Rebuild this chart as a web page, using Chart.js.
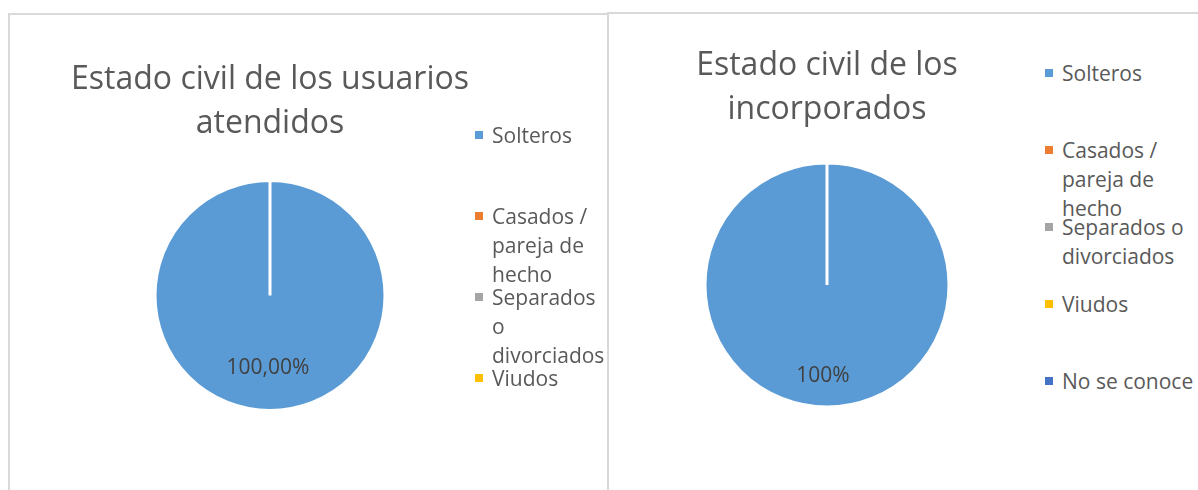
<!DOCTYPE html>
<html>
<head>
<meta charset="utf-8">
<script src="https://cdn.jsdelivr.net/npm/chart.js@4.4.1/dist/chart.umd.min.js"></script>
<style>
  body { margin: 0; width: 1198px; height: 490px; overflow: hidden; background: #fff; font-family: "Open Sans", sans-serif; }
  .panel { position: absolute; border: 2px solid #d9d9d9; border-bottom: none; box-sizing: border-box; }
  .box { position: absolute; }
  .legend { position: absolute; left: 0; top: 0; color: #595959; font-size: 21px; line-height: 29px; }
  .item { position: absolute; }
  .item .mark { position: absolute; left: 0; top: 10.5px; width: 8px; height: 8px; }
  .item .txt { position: absolute; top: 0; }
</style>
</head>
<body>
<div class="panel" style="left:8px; top:13px; width:601px; height:490px;"></div>
<div class="panel" style="left:607px; top:12px; width:600px; height:490px;"></div>

<div class="box" style="left:10px; top:15px; width:520px; height:475px;"><canvas id="atendidos"></canvas></div>
<div class="box" style="left:609px; top:14px; width:436px; height:476px;"><canvas id="incorporados"></canvas></div>
<div id="legendAtendidos" class="legend"></div>
<div id="legendIncorporados" class="legend"></div>

<script>
// datos de los dos graficos
const categoriasAtendidos = ['Solteros', 'Casados / pareja de hecho', 'Separados o divorciados', 'Viudos'];
const porcentajesAtendidos = [100, 0, 0, 0];

const categoriasIncorporados = ['Solteros', 'Casados / pareja de hecho', 'Separados o divorciados', 'Viudos', 'No se conoce'];
const porcentajesIncorporados = [100, 0, 0, 0, 0];

const colores = ['#5b9bd5', '#ed7d31', '#a5a5a5', '#ffc000', '#4472c4'];

// etiqueta de porcentaje dentro de cada sector
const etiquetas = {
  id: 'etiquetas',
  afterDatasetsDraw(chart, args, opts) {
    const ctx = chart.ctx;
    const valores = chart.data.datasets[0].data;
    const total = valores.reduce((a, b) => a + b, 0);
    chart.getDatasetMeta(0).data.forEach((arc, i) => {
      if (!valores[i]) return;
      const p = arc.getProps(['x', 'y', 'startAngle', 'endAngle', 'outerRadius'], true);
      const medio = (p.startAngle + p.endAngle) / 2;
      const r = p.outerRadius * opts.dist;
      const texto = (valores[i] / total * 100).toFixed(opts.decimales).replace('.', ',') + '%';
      ctx.save();
      ctx.font = '21px "Open Sans"';
      ctx.fillStyle = '#404040';
      ctx.textAlign = 'center';
      ctx.textBaseline = 'middle';
      ctx.fillText(texto, p.x + Math.cos(medio) * r + opts.dx, p.y + Math.sin(medio) * r);
      ctx.restore();
    });
  }
};

function crearPie(id, labels, valores, titulo, cfg) {
  return new Chart(document.getElementById(id), {
    type: 'pie',
    data: {
      labels: labels,
      datasets: [{
        data: valores,
        backgroundColor: colores.slice(0, labels.length),
        borderColor: '#ffffff',
        borderWidth: 3
      }]
    },
    options: {
      responsive: true,
      maintainAspectRatio: false,
      animation: false,
      events: [],
      radius: cfg.radio,
      layout: { padding: { bottom: cfg.padAbajo } },
      plugins: {
        legend: { display: false },
        tooltip: { enabled: false },
        title: {
          display: true,
          text: titulo,
          color: '#595959',
          font: { family: '"Open Sans"', size: 32, weight: 'normal', lineHeight: 1.375 },
          padding: { top: cfg.padTitulo, bottom: 0 }
        },
        etiquetas: { dist: cfg.dist, decimales: cfg.decimales, dx: cfg.dx }
      }
    },
    plugins: [etiquetas]
  });
}

// leyenda a la derecha, como en Excel
function crearLeyenda(id, labels, x, textoX, ancho, primero, paso) {
  const cont = document.getElementById(id);
  labels.forEach((lab, i) => {
    const item = document.createElement('div');
    item.className = 'item';
    item.style.left = x + 'px';
    item.style.top = (primero + i * paso - 14.5) + 'px';
    const mark = document.createElement('span');
    mark.className = 'mark';
    mark.style.background = colores[i];
    const txt = document.createElement('div');
    txt.className = 'txt';
    txt.style.left = (textoX - x) + 'px';
    txt.style.width = ancho + 'px';
    txt.textContent = lab;
    item.appendChild(mark);
    item.appendChild(txt);
    cont.appendChild(item);
  });
}

document.fonts.load('32px "Open Sans"').then(() => {
  crearPie('atendidos', categoriasAtendidos, porcentajesAtendidos,
    ['Estado civil de los usuarios', 'atendidos'],
    { radio: 115, padAbajo: 45, padTitulo: 43, dist: 0.63, decimales: 2, dx: -2 });
  crearPie('incorporados', categoriasIncorporados, porcentajesIncorporados,
    ['Estado civil de los', 'incorporados'],
    { radio: 122, padAbajo: 52, padTitulo: 30, dist: 0.75, decimales: 0, dx: -4 });

  crearLeyenda('legendAtendidos', categoriasAtendidos, 475, 492, 118, 135, 81);
  crearLeyenda('legendIncorporados', categoriasIncorporados, 1045, 1062, 136, 73, 77);
});
</script>
</body>
</html>
